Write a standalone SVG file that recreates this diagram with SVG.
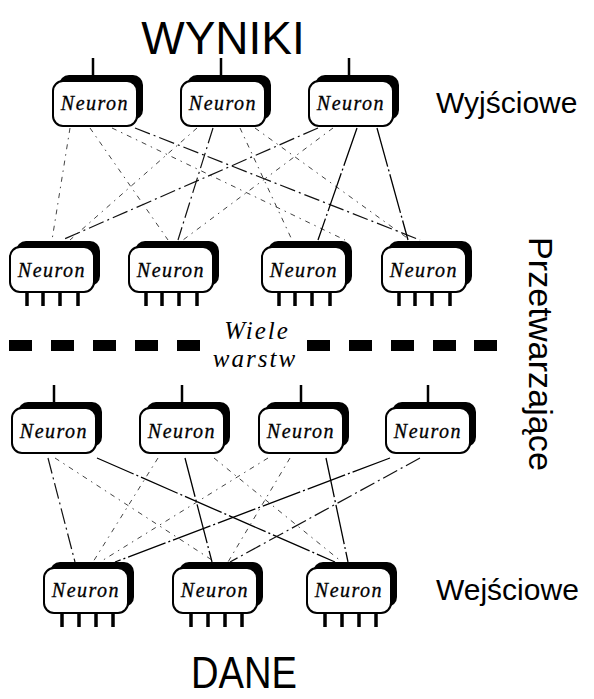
<svg xmlns="http://www.w3.org/2000/svg" width="594" height="699" viewBox="0 0 594 699">
  <style>
    .shade { fill: #000; }
    .body { fill: #fff; stroke: #000; stroke-width: 2; }
    .nt { font-family: "Liberation Serif", "DejaVu Serif", serif; font-style: italic; font-size: 20px; letter-spacing: 1.5px; text-anchor: middle; fill: #000; stroke: #000; stroke-width: 0.3; }
    .pin { stroke: #000; stroke-width: 3.5; }
    .stem { stroke: #000; stroke-width: 2.5; }
    .label { font-family: "Liberation Sans", Arial, sans-serif; fill: #000; }
    .ital { font-family: "Liberation Serif", "DejaVu Serif", serif; font-style: italic; font-size: 25px; letter-spacing: 2px; text-anchor: middle; fill: #000; }
    .dash { fill: #000; }
    .c { fill: none; stroke: #111; stroke-width: 1.2; stroke-dasharray: 16 4 2 4; }
    .l { fill: none; stroke: #444; stroke-width: 1; stroke-dasharray: 5 5 1.5 5; }
    .s { fill: none; stroke: #000; stroke-width: 1.3; stroke-dasharray: 40 3 2 3; }
  </style>

  <!-- connections between output and processing layers -->
  <g id="connectors">
    <line class="l" x1="70" y1="128" x2="52" y2="240"/>
    <line class="l" x1="90" y1="128" x2="168" y2="240"/>
    <line class="l" x1="112" y1="128" x2="345" y2="240"/>
    <line class="c" x1="135" y1="128" x2="420" y2="240"/>
    <line class="l" x1="197" y1="128" x2="70" y2="240"/>
    <line class="c" x1="213" y1="128" x2="178" y2="240"/>
    <line class="l" x1="240" y1="128" x2="292" y2="240"/>
    <line class="l" x1="255" y1="128" x2="410" y2="240"/>
    <line class="c" x1="318" y1="128" x2="62" y2="240"/>
    <line class="l" x1="333" y1="128" x2="183" y2="240"/>
    <line class="s" x1="357" y1="128" x2="318" y2="240"/>
    <line class="s" x1="377" y1="128" x2="408" y2="240"/>

    <!-- connections between processing and input layers -->
    <line class="c" x1="48" y1="458" x2="75" y2="562"/>
    <line class="l" x1="55" y1="458" x2="215" y2="562"/>
    <line class="s" x1="97" y1="458" x2="335" y2="562"/>
    <line class="l" x1="158" y1="458" x2="93" y2="562"/>
    <line class="s" x1="185" y1="458" x2="212" y2="562"/>
    <line class="l" x1="214" y1="458" x2="342" y2="562"/>
    <line class="l" x1="268" y1="458" x2="100" y2="562"/>
    <line class="l" x1="290" y1="458" x2="228" y2="562"/>
    <line class="s" x1="326" y1="458" x2="348" y2="562"/>
    <line class="s" x1="390" y1="458" x2="115" y2="562"/>
    <line class="c" x1="420" y1="458" x2="230" y2="562"/>
  </g>

  <!-- output layer -->
  <g id="out1" transform="translate(53,81)">
    <line class="stem" x1="40" y1="-23" x2="40" y2="-4"/>
    <rect class="shade" x="6" y="-6" width="84" height="45" rx="10"/>
    <rect class="body" x="0" y="0" width="84" height="45" rx="10"/>
    <text class="nt" x="42" y="29">Neuron</text>
  </g>
  <g id="out2" transform="translate(181,81)">
    <line class="stem" x1="40" y1="-23" x2="40" y2="-4"/>
    <rect class="shade" x="6" y="-6" width="84" height="45" rx="10"/>
    <rect class="body" x="0" y="0" width="84" height="45" rx="10"/>
    <text class="nt" x="42" y="29">Neuron</text>
  </g>
  <g id="out3" transform="translate(309,81)">
    <line class="stem" x1="40" y1="-23" x2="40" y2="-4"/>
    <rect class="shade" x="6" y="-6" width="84" height="45" rx="10"/>
    <rect class="body" x="0" y="0" width="84" height="45" rx="10"/>
    <text class="nt" x="42" y="29">Neuron</text>
  </g>

  <!-- upper processing layer -->
  <g id="hidA1" transform="translate(10,247)">
    <rect class="shade" x="6" y="-6" width="84" height="45" rx="10"/>
    <rect class="body" x="0" y="0" width="84" height="45" rx="10"/>
    <text class="nt" x="42" y="30">Neuron</text>
    <path class="pin" d="M17 45v14M33 45v14M50 45v14M68 45v14"/>
  </g>
  <g id="hidA2" transform="translate(129,247)">
    <rect class="shade" x="6" y="-6" width="84" height="45" rx="10"/>
    <rect class="body" x="0" y="0" width="84" height="45" rx="10"/>
    <text class="nt" x="42" y="30">Neuron</text>
    <path class="pin" d="M17 45v14M33 45v14M50 45v14M68 45v14"/>
  </g>
  <g id="hidA3" transform="translate(262,247)">
    <rect class="shade" x="6" y="-6" width="84" height="45" rx="10"/>
    <rect class="body" x="0" y="0" width="84" height="45" rx="10"/>
    <text class="nt" x="42" y="30">Neuron</text>
    <path class="pin" d="M17 45v14M33 45v14M50 45v14M68 45v14"/>
  </g>
  <g id="hidA4" transform="translate(382,247)">
    <rect class="shade" x="6" y="-6" width="84" height="45" rx="10"/>
    <rect class="body" x="0" y="0" width="84" height="45" rx="10"/>
    <text class="nt" x="42" y="30">Neuron</text>
    <path class="pin" d="M17 45v14M33 45v14M50 45v14M68 45v14"/>
  </g>

  <!-- separator for the omitted layers -->
  <g id="separator">
    <rect class="dash" x="9" y="340" width="23" height="11"/>
    <rect class="dash" x="51" y="340" width="23" height="11"/>
    <rect class="dash" x="93" y="340" width="23" height="11"/>
    <rect class="dash" x="135" y="340" width="23" height="11"/>
    <rect class="dash" x="177" y="340" width="23" height="11"/>
    <rect class="dash" x="307" y="340" width="23" height="11"/>
    <rect class="dash" x="349" y="340" width="23" height="11"/>
    <rect class="dash" x="391" y="340" width="23" height="11"/>
    <rect class="dash" x="433" y="340" width="23" height="11"/>
    <rect class="dash" x="474" y="340" width="23" height="11"/>
    <text class="ital" x="257" y="339">Wiele</text>
    <text class="ital" x="255" y="367">warstw</text>
  </g>

  <!-- lower processing layer -->
  <g id="hidB1" transform="translate(12,408)">
    <line class="stem" x1="42" y1="-23" x2="42" y2="-4"/>
    <rect class="shade" x="6" y="-6" width="84" height="45" rx="10"/>
    <rect class="body" x="0" y="0" width="84" height="45" rx="10"/>
    <text class="nt" x="42" y="30">Neuron</text>
  </g>
  <g id="hidB2" transform="translate(140,408)">
    <line class="stem" x1="42" y1="-23" x2="42" y2="-4"/>
    <rect class="shade" x="6" y="-6" width="84" height="45" rx="10"/>
    <rect class="body" x="0" y="0" width="84" height="45" rx="10"/>
    <text class="nt" x="42" y="30">Neuron</text>
  </g>
  <g id="hidB3" transform="translate(259,408)">
    <line class="stem" x1="42" y1="-23" x2="42" y2="-4"/>
    <rect class="shade" x="6" y="-6" width="84" height="45" rx="10"/>
    <rect class="body" x="0" y="0" width="84" height="45" rx="10"/>
    <text class="nt" x="42" y="30">Neuron</text>
  </g>
  <g id="hidB4" transform="translate(386,408)">
    <line class="stem" x1="42" y1="-23" x2="42" y2="-4"/>
    <rect class="shade" x="6" y="-6" width="84" height="45" rx="10"/>
    <rect class="body" x="0" y="0" width="84" height="45" rx="10"/>
    <text class="nt" x="42" y="30">Neuron</text>
  </g>

  <!-- input layer -->
  <g id="in1" transform="translate(44,568)">
    <rect class="shade" x="6" y="-6" width="84" height="45" rx="10"/>
    <rect class="body" x="0" y="0" width="84" height="45" rx="10"/>
    <text class="nt" x="42" y="29">Neuron</text>
    <path class="pin" d="M18 45v14M35 45v14M52 45v14M69 45v14"/>
  </g>
  <g id="in2" transform="translate(173,568)">
    <rect class="shade" x="6" y="-6" width="84" height="45" rx="10"/>
    <rect class="body" x="0" y="0" width="84" height="45" rx="10"/>
    <text class="nt" x="42" y="29">Neuron</text>
    <path class="pin" d="M18 45v14M35 45v14M52 45v14M69 45v14"/>
  </g>
  <g id="in3" transform="translate(307,568)">
    <rect class="shade" x="6" y="-6" width="84" height="45" rx="10"/>
    <rect class="body" x="0" y="0" width="84" height="45" rx="10"/>
    <text class="nt" x="42" y="29">Neuron</text>
    <path class="pin" d="M18 45v14M35 45v14M52 45v14M69 45v14"/>
  </g>

  <!-- titles and layer names -->
  <g id="labels">
    <text class="label" x="223" y="54" font-size="46" text-anchor="middle">WYNIKI</text>
    <text class="label" x="191" y="688" font-size="44" textLength="106" lengthAdjust="spacingAndGlyphs">DANE</text>
    <text class="label" x="436" y="113" font-size="30">Wyjściowe</text>
    <text class="label" x="436" y="600" font-size="30">Wejściowe</text>
    <text class="label" font-size="33" transform="translate(529,237) rotate(90)" textLength="234" lengthAdjust="spacingAndGlyphs">Przetwarzające</text>
  </g>
</svg>
